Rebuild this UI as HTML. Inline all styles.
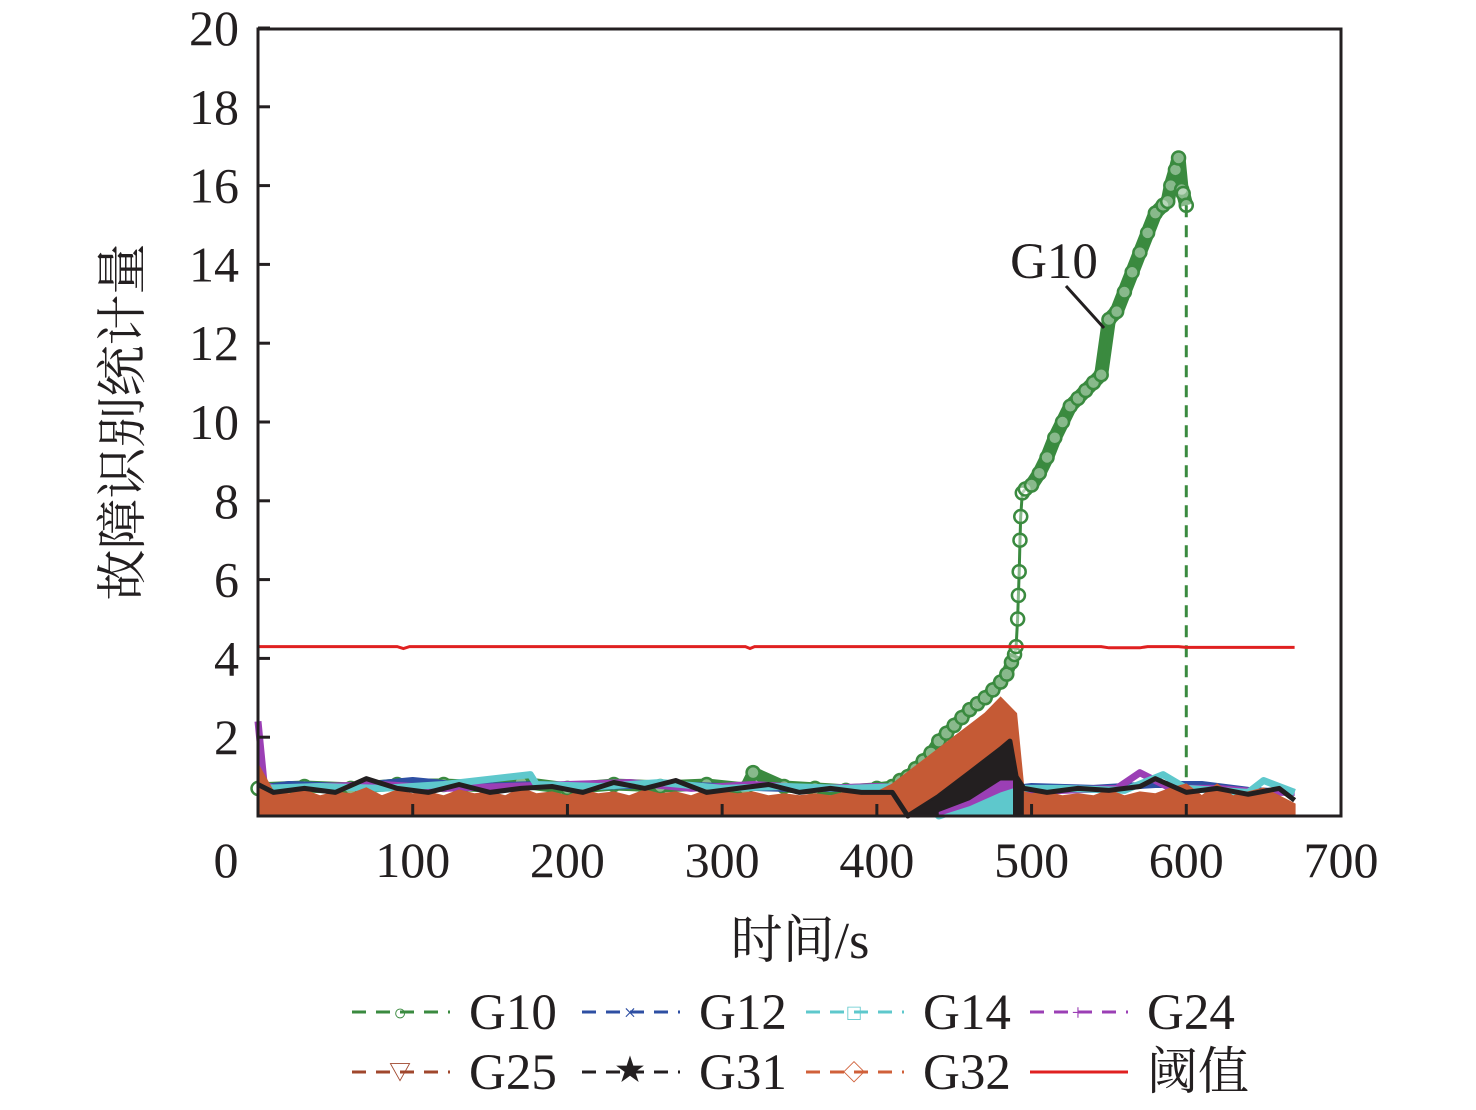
<!DOCTYPE html>
<html><head><meta charset="utf-8">
<style>
body{margin:0;background:#fff;}
svg{display:block;}
text{font-family:"Liberation Serif","Noto Serif CJK SC",serif;fill:#231f20;}
</style></head>
<body>
<svg id="chart" width="1476" height="1110" viewBox="0 0 1476 1110" xmlns="http://www.w3.org/2000/svg">
<g id="plot"></g>
<rect x="258" y="29" width="1083" height="787" fill="none" stroke="#231f20" stroke-width="3"/>
<g id="axes"></g>
<text transform="translate(140,422) rotate(-90)" text-anchor="middle" font-size="51">故障识别统计量</text>
<text x="800" y="958" text-anchor="middle" font-size="52">时间/s</text>
<text x="1054" y="278" text-anchor="middle" font-size="51">G10</text>
<line x1="1066" y1="286" x2="1104" y2="328" stroke="#231f20" stroke-width="3"/>
<g id="legend"></g>
</svg>
<script>
const xTicks=[100,200,300,400,500,600,700];
const yTicks=[2,4,6,8,10,12,14,16,18,20];
const baseT=[0,10,20,30,40,50,60,70,80,90,100,110,120,130,140,150,160,170,180,190,200,210,220,230,240,250,260,270,280,290,300,310,320,330,340,350,360,370,380,390,400,410,420,430,440,450,460,470,480,490,495,500,510,520,530,540,550,560,570,580,590,600,610,620,630,640,650,660,670];
const g32Vals=[1.3,0.6,0.55,0.65,0.5,0.6,0.55,0.7,0.5,0.65,0.55,0.6,0.5,0.65,0.55,0.6,0.5,0.7,0.55,0.6,0.5,0.65,0.55,0.6,0.5,0.65,0.55,0.6,0.5,0.65,0.6,0.55,0.6,0.5,0.55,0.5,0.55,0.5,0.6,0.55,0.6,0.8,1.1,1.4,1.7,2.0,2.3,2.6,3.0,2.6,0.6,0.55,0.6,0.5,0.55,0.5,0.65,0.5,0.6,0.55,0.7,0.8,0.5,0.8,0.5,0.6,0.7,0.5,0.3];
const g31T=[0,10,30,50,70,90,110,130,150,170,190,210,230,250,270,290,310,330,350,370,390,410,420,440,460,480,486,490,495,510,530,550,570,580,600,620,640,660,670];
const g31Vals=[0.8,0.6,0.7,0.6,0.95,0.7,0.6,0.8,0.6,0.7,0.75,0.6,0.85,0.7,0.9,0.6,0.7,0.8,0.6,0.7,0.6,0.6,0,0.5,1.1,1.7,1.9,1.0,0.7,0.6,0.7,0.65,0.75,0.95,0.6,0.7,0.55,0.7,0.4];
const g10T=[0,30,60,90,120,150,170,200,230,260,290,315,320,340,360,380,400,410,415,420,425,430,435,440,445,450,455,460,465,470,475,480,484,487,489,490,491,491.5,492,492.5,493,494,496,500,505,510,515,520,525,530,535,540,545,550,555,560,565,570,575,580,585,588,590,593,595,597,598,600];
const g10Vals=[0.7,0.75,0.7,0.8,0.8,0.75,0.85,0.7,0.8,0.75,0.8,0.7,1.1,0.75,0.7,0.65,0.7,0.75,0.9,1.0,1.2,1.4,1.6,1.9,2.1,2.3,2.5,2.7,2.85,3.0,3.2,3.4,3.6,3.9,4.1,4.3,5.0,5.6,6.2,7.0,7.6,8.2,8.3,8.4,8.7,9.1,9.6,10.0,10.4,10.6,10.8,11.0,11.2,12.6,12.8,13.3,13.8,14.3,14.8,15.3,15.5,15.6,16.0,16.4,16.7,15.9,15.8,15.5];
const g24T=[0,4,10,40,80,120,160,200,240,280,320,360,400,430,440,460,480,488,495,520,555,570,590,620,650,670];
const g24Vals=[2.4,0.8,0.7,0.75,0.8,0.7,0.75,0.8,0.85,0.7,0.8,0.7,0.75,0.7,0.1,0.4,0.9,0.9,0.6,0.65,0.7,1.1,0.7,0.7,0.6,0.6];
const g14T=[0,40,80,120,176,180,220,260,300,340,380,420,440,460,480,488,495,520,560,585,600,640,650,670];
const g14Vals=[0.7,0.75,0.7,0.8,1.05,0.8,0.75,0.85,0.7,0.75,0.7,0.75,0,0.25,0.6,0.7,0.7,0.7,0.65,1.05,0.7,0.6,0.9,0.6];
const g12T=[0,20,60,100,140,180,220,260,300,340,380,420,440,470,490,500,540,580,610,640,670];
const g12Vals=[0.7,0.8,0.75,0.9,0.75,0.8,0.75,0.8,0.75,0.7,0.7,0.7,0.2,0.4,0.7,0.75,0.7,0.8,0.8,0.65,0.6];
const thrT=[0,90,94,98,315,318,321,545,550,570,575,595,600,670];
const thrVals=[4.3,4.3,4.25,4.3,4.3,4.25,4.3,4.3,4.27,4.27,4.3,4.3,4.28,4.28];

const X=v=>258+v*(1083/700);
const Y=v=>816-v*39.4;
const NS="http://www.w3.org/2000/svg";
function mk(tag,attrs,parent){const e=document.createElementNS(NS,tag);for(const k in attrs)e.setAttribute(k,attrs[k]);parent.appendChild(e);return e;}
const plot=document.getElementById('plot');
const axes=document.getElementById('axes');
function pts(T,V){return T.map((t,i)=>X(t).toFixed(1)+','+Y(V[i]).toFixed(1)).join(' ');}

// G10 green
const g10Line=g10T.map((t,i)=>i).filter(i=>g10T[i]<490||g10T[i]>494);
let pA=mk('polyline',{points:g10Line.filter(i=>g10T[i]<490).map(i=>X(g10T[i])+','+Y(g10Vals[i])).join(' '),fill:'none',stroke:'#3a8a3f','stroke-width':12,'stroke-linejoin':'round'},plot);


let pB=mk('polyline',{points:g10Line.filter(i=>g10T[i]>494).map(i=>X(g10T[i])+','+Y(g10Vals[i])).join(' '),fill:'none',stroke:'#3a8a3f','stroke-width':14,'stroke-linejoin':'round'},plot);


let p=mk('polyline',{points:pts(g10T,g10Vals),fill:'none',stroke:'#3a8a3f','stroke-width':3},plot);


g10T.forEach((t,i)=>{const c=mk('circle',{cx:X(t),cy:Y(g10Vals[i]),r:6.5,fill:'#fff','fill-opacity':0.4,stroke:'#3a8a3f','stroke-width':2.5},plot);

});
let dl=mk('line',{x1:X(600),y1:Y(15.5),x2:X(600),y2:Y(0),stroke:'#3a8a3f','stroke-width':3,'stroke-dasharray':'12,8'},plot);



[[g12T,g12Vals,'#2e4fa3','series-g12'],[g24T,g24Vals,'#9b3fb5','series-g24'],[g14T,g14Vals,'#5ec8cc','series-g14']].forEach(s=>{
 const l=mk('polyline',{points:pts(s[0],s[1]),fill:'none',stroke:s[2],'stroke-width':7,'stroke-linejoin':'round'},plot);
 
 
});

let a=mk('polygon',{points:X(0)+','+Y(0)+' '+pts(baseT,g32Vals)+' '+X(670)+','+Y(0),fill:'#c55a35',stroke:'#c55a35','stroke-width':2},plot);



let b=mk('polyline',{points:pts(g31T,g31Vals),fill:'none',stroke:'#231f20','stroke-width':5,'stroke-linejoin':'round'},plot);


const riseIdx=g31T.map((t,i)=>i).filter(i=>g31T[i]>=420&&g31T[i]<=495);
const rpts=riseIdx.map(i=>X(g31T[i])+','+Y(g31Vals[i])).join(' ');
let bf=mk('polygon',{points:X(420)+','+Y(0)+' '+rpts+' '+X(495)+','+Y(0),fill:'#231f20'},plot);


[[g24T,g24Vals,'#9b3fb5',440,488],[g14T,g14Vals,'#5ec8cc',440,488]].forEach(s=>{
 const idx=s[0].map((t,i)=>i).filter(i=>s[0][i]>=s[3]&&s[0][i]<=s[4]);
 const q=mk('polygon',{points:X(s[3])+','+Y(0)+' '+idx.map(i=>X(s[0][i])+','+Y(s[1][i])).join(' ')+' '+X(s[4])+','+Y(0),fill:s[2]},plot);
 
 
});

let th=mk('polyline',{points:pts(thrT,thrVals),fill:'none',stroke:'#e02020','stroke-width':3},plot);



yTicks.forEach(v=>{
 const tk=mk('line',{x1:258,y1:Y(v),x2:270,y2:Y(v),stroke:'#231f20','stroke-width':3},axes);
 
 
 const t=mk('text',{x:239,y:Y(v)+17,'text-anchor':'end','font-size':50},axes);
 t.textContent=v;
 
 
});
xTicks.forEach(v=>{
 if(v<700){const tk=mk('line',{x1:X(v),y1:816,x2:X(v),y2:804,stroke:'#231f20','stroke-width':3},axes);
 
 }
 const t=mk('text',{x:X(v),y:877,'text-anchor':'middle','font-size':50},axes);
 t.textContent=v;
 
 
});
const z=mk('text',{x:226,y:877,'text-anchor':'middle','font-size':50},axes);
z.textContent='0';



const legendNames=['G10','G12','G14','G24','G25','G31','G32','阈值'];
const legendColors=['#3a8a3f','#2e4fa3','#5ec8cc','#9b3fb5','#a0472d','#231f20','#d0603a','#e02020'];
const legendMarks=['○','×','□','+','▽','★','◇',''];
const leg=document.getElementById('legend');
const colX=[352,582,806,1030];
legendNames.forEach((n,i)=>{
 const x=colX[i%4],y=i<4?1012:1072;
 const g=mk('g',{},leg);
 
 
 mk('line',{x1:x,y1:y,x2:x+98,y2:y,stroke:legendColors[i],'stroke-width':3,'stroke-dasharray':i==7?'none':'14,10'},g);
 if(legendMarks[i]){const m=mk('text',{x:x+48,y:y+8,'text-anchor':'middle','font-size':i==5?30:22},g);m.textContent=legendMarks[i];m.style.fill=legendColors[i];}
 const t=mk('text',{x:x+117,y:y+17,'font-size':51},g);
 t.textContent=n;
});
</script>
</body></html>
